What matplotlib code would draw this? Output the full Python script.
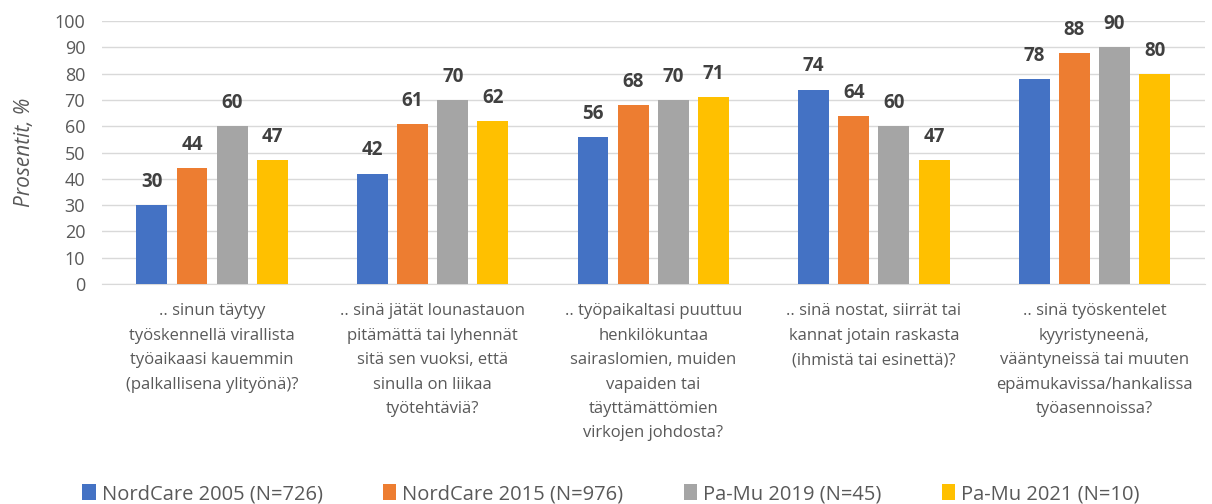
import numpy as np
import matplotlib.pyplot as plt

plt.rcParams['font.family'] = ['Open Sans', 'DejaVu Sans']

categories = [
    ".. sinun täytyy\ntyöskennellä virallista\ntyöaikaasi kauemmin\n(palkallisena ylityönä)?",
    ".. sinä jätät lounastauon\npitämättä tai lyhennät\nsitä sen vuoksi, että\nsinulla on liikaa\ntyötehtäviä?",
    ".. työpaikaltasi puuttuu\nhenkilökuntaa\nsairaslomien, muiden\nvapaiden tai\ntäyttämättömien\nvirkojen johdosta?",
    ".. sinä nostat, siirrät tai\nkannat jotain raskasta\n(ihmistä tai esinettä)?",
    ".. sinä työskentelet\nkyyristyneenä,\nvääntyneissä tai muuten\nepämukavissa/hankalissa\ntyöasennoissa?",
]
series_names = ["NordCare 2005 (N=726)", "NordCare 2015 (N=976)",
                "Pa-Mu 2019 (N=45)", "Pa-Mu 2021 (N=10)"]
nordcare_2005 = [30, 42, 56, 74, 78]
nordcare_2015 = [44, 61, 68, 64, 88]
pamu_2019 = [60, 70, 70, 60, 90]
pamu_2021 = [47, 62, 71, 47, 80]
colors = ["#4472C4", "#ED7D31", "#A5A5A5", "#FFC000"]

fig = plt.figure(figsize=(12.12, 5.04), dpi=100)
ax = fig.add_axes([0.084, 0.4365, 0.91, 0.5215])

x = np.arange(len(categories))
width = 0.14
step = 0.182
all_series = [nordcare_2005, nordcare_2015, pamu_2019, pamu_2021]
for i, vals in enumerate(all_series):
    pos = x + (i - 1.5) * step
    bars = ax.bar(pos, vals, width, color=colors[i], label=series_names[i], zorder=3)
    for b, v in zip(bars, vals):
        ax.text(b.get_x() + b.get_width() / 2, v + 5, str(v), ha='center', va='bottom',
                fontsize=13.5, fontweight='bold', color='#404040')

ax.set_xlim(-0.5, len(categories) - 0.5)
ax.set_ylim(0, 100)
ax.set_yticks(range(0, 101, 10))
ax.yaxis.grid(True, color='#D9D9D9', linewidth=1, zorder=0)
ax.set_axisbelow(True)
for s in ['top', 'right', 'left']:
    ax.spines[s].set_visible(False)
ax.spines['bottom'].set_color('#D9D9D9')
ax.tick_params(axis='y', length=0, labelsize=13, labelcolor='#595959', pad=12)
ax.tick_params(axis='x', length=0, pad=14)
ax.set_xticks(x)
ax.set_xticklabels(categories, fontsize=12, color='#595959', linespacing=1.7, va='top')
ax.set_ylabel("Prosentit, %", fontsize=15, style='italic', color='#595959', labelpad=14)

ax.legend(loc='lower center', bbox_to_anchor=(0.504, -0.036), bbox_transform=fig.transFigure,
          ncol=4, frameon=False, fontsize=14.5, labelcolor='#595959',
          handlelength=0.65, handleheight=0.8, handletextpad=0.3, columnspacing=3.0)

fig.savefig("out.png", dpi=100)
